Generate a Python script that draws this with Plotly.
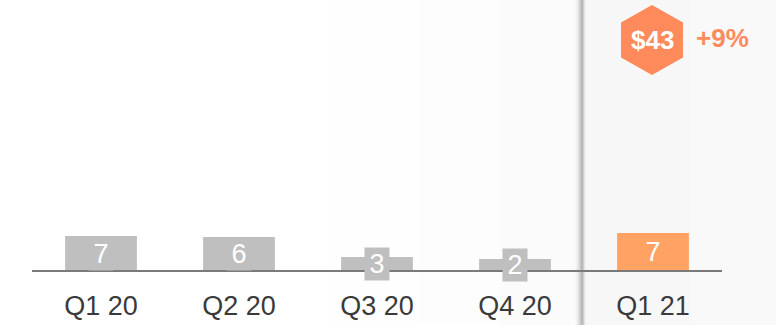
import plotly.graph_objects as go

categories = ["Q1 20", "Q2 20", "Q3 20", "Q4 20", "Q1 21"]
values = [7.0, 6.8, 2.8, 2.4, 7.6]
labels = ["7", "6", "3", "2", "7"]
bar_colors = ["#bfbfbf", "#bfbfbf", "#bfbfbf", "#bfbfbf", "#ffa264"]
badge_value = "$43"
badge_change = "+9%"

W, H = 776, 325
L, R, T, B = 32, 54, 0, 54
PW, PH = W - L - R, H - T - B


def px(x):
    return (x - L) / PW


def py(y):
    return (H - B - y) / PH


fig = go.Figure()
fig.add_trace(go.Bar(
    x=categories, y=values, marker=dict(color=bar_colors, line=dict(width=0)),
    hoverinfo="skip", width=0.52,
))

shapes = []
# background panels
bands = [(330, 420, "#fefefe"), (420, 500, "#fdfdfd"), (500, 575, "#fbfbfb"),
         (583, 690, "#f7f7f7"), (690, 776, "#f9f9f9")]
for x0, x1, c in bands:
    shapes.append(dict(type="rect", xref="paper", yref="paper", x0=px(x0), x1=px(x1),
                       y0=py(H), y1=py(0), fillcolor=c, line=dict(width=0), layer="below"))
shadow = ["#f8f8f8", "#f3f3f3", "#ececec", "#e2e2e2", "#d6d6d6", "#c8c8c8", "#bcbcbc",
          "#b8b8b8", "#cfcfcf", "#e6e6e6", "#f1f1f1"]
for i, c in enumerate(shadow):
    x0 = 575 + i
    shapes.append(dict(type="rect", xref="paper", yref="paper", x0=px(x0), x1=px(x0 + 1),
                       y0=py(H), y1=py(0), fillcolor=c, line=dict(width=0), layer="below"))
# axis line
shapes.append(dict(type="line", xref="paper", yref="paper", x0=0, x1=1, y0=0, y1=0,
                   line=dict(color="#7a7a7a", width=2)))
# hexagon badge
hx, hy, hr, hw = 652, 40, 35, 31
pts = [(0, hr), (hw, hr / 2), (hw, -hr / 2), (0, -hr), (-hw, -hr / 2), (-hw, hr / 2)]
path = "M " + " L ".join(f"{px(hx + dx):.5f},{py(hy - dy):.5f}" for dx, dy in pts) + " Z"
shapes.append(dict(type="path", xref="paper", yref="paper", path=path,
                   fillcolor="#ff8a5b", line=dict(width=0)))

annotations = []
for c, v, t, col in zip(categories, values, labels, bar_colors):
    annotations.append(dict(x=c, y=v / 2, xref="x", yref="y", text=t, showarrow=False,
                            xanchor="center", yanchor="middle",
                            font=dict(family="Arial", size=27, color="white"),
                            bgcolor=col, width=24, height=32, borderpad=0))
annotations.append(dict(x=px(hx), y=py(hy), xref="paper", yref="paper", text=f"<b>{badge_value}</b>",
                        showarrow=False, xanchor="center", yanchor="middle",
                        font=dict(family="Arial", size=26, color="white")))
annotations.append(dict(x=px(722), y=py(38), xref="paper", yref="paper", text=f"<b>{badge_change}</b>",
                        showarrow=False, xanchor="center", yanchor="middle",
                        font=dict(family="Arial", size=26, color="#ff8a5b")))

fig.update_layout(
    width=W, height=H, margin=dict(l=L, r=R, t=T, b=B),
    paper_bgcolor="white", plot_bgcolor="rgba(0,0,0,0)",
    showlegend=False, shapes=shapes, annotations=annotations,
    xaxis=dict(showgrid=False, zeroline=False, showline=False, ticks="",
               ticklabelstandoff=16,
               tickfont=dict(family="Arial", size=27, color="#3a3a3a")),
    yaxis=dict(range=[0, PH / 5.0], visible=False, showgrid=False, zeroline=False),
)

fig.write_html("out.html")
